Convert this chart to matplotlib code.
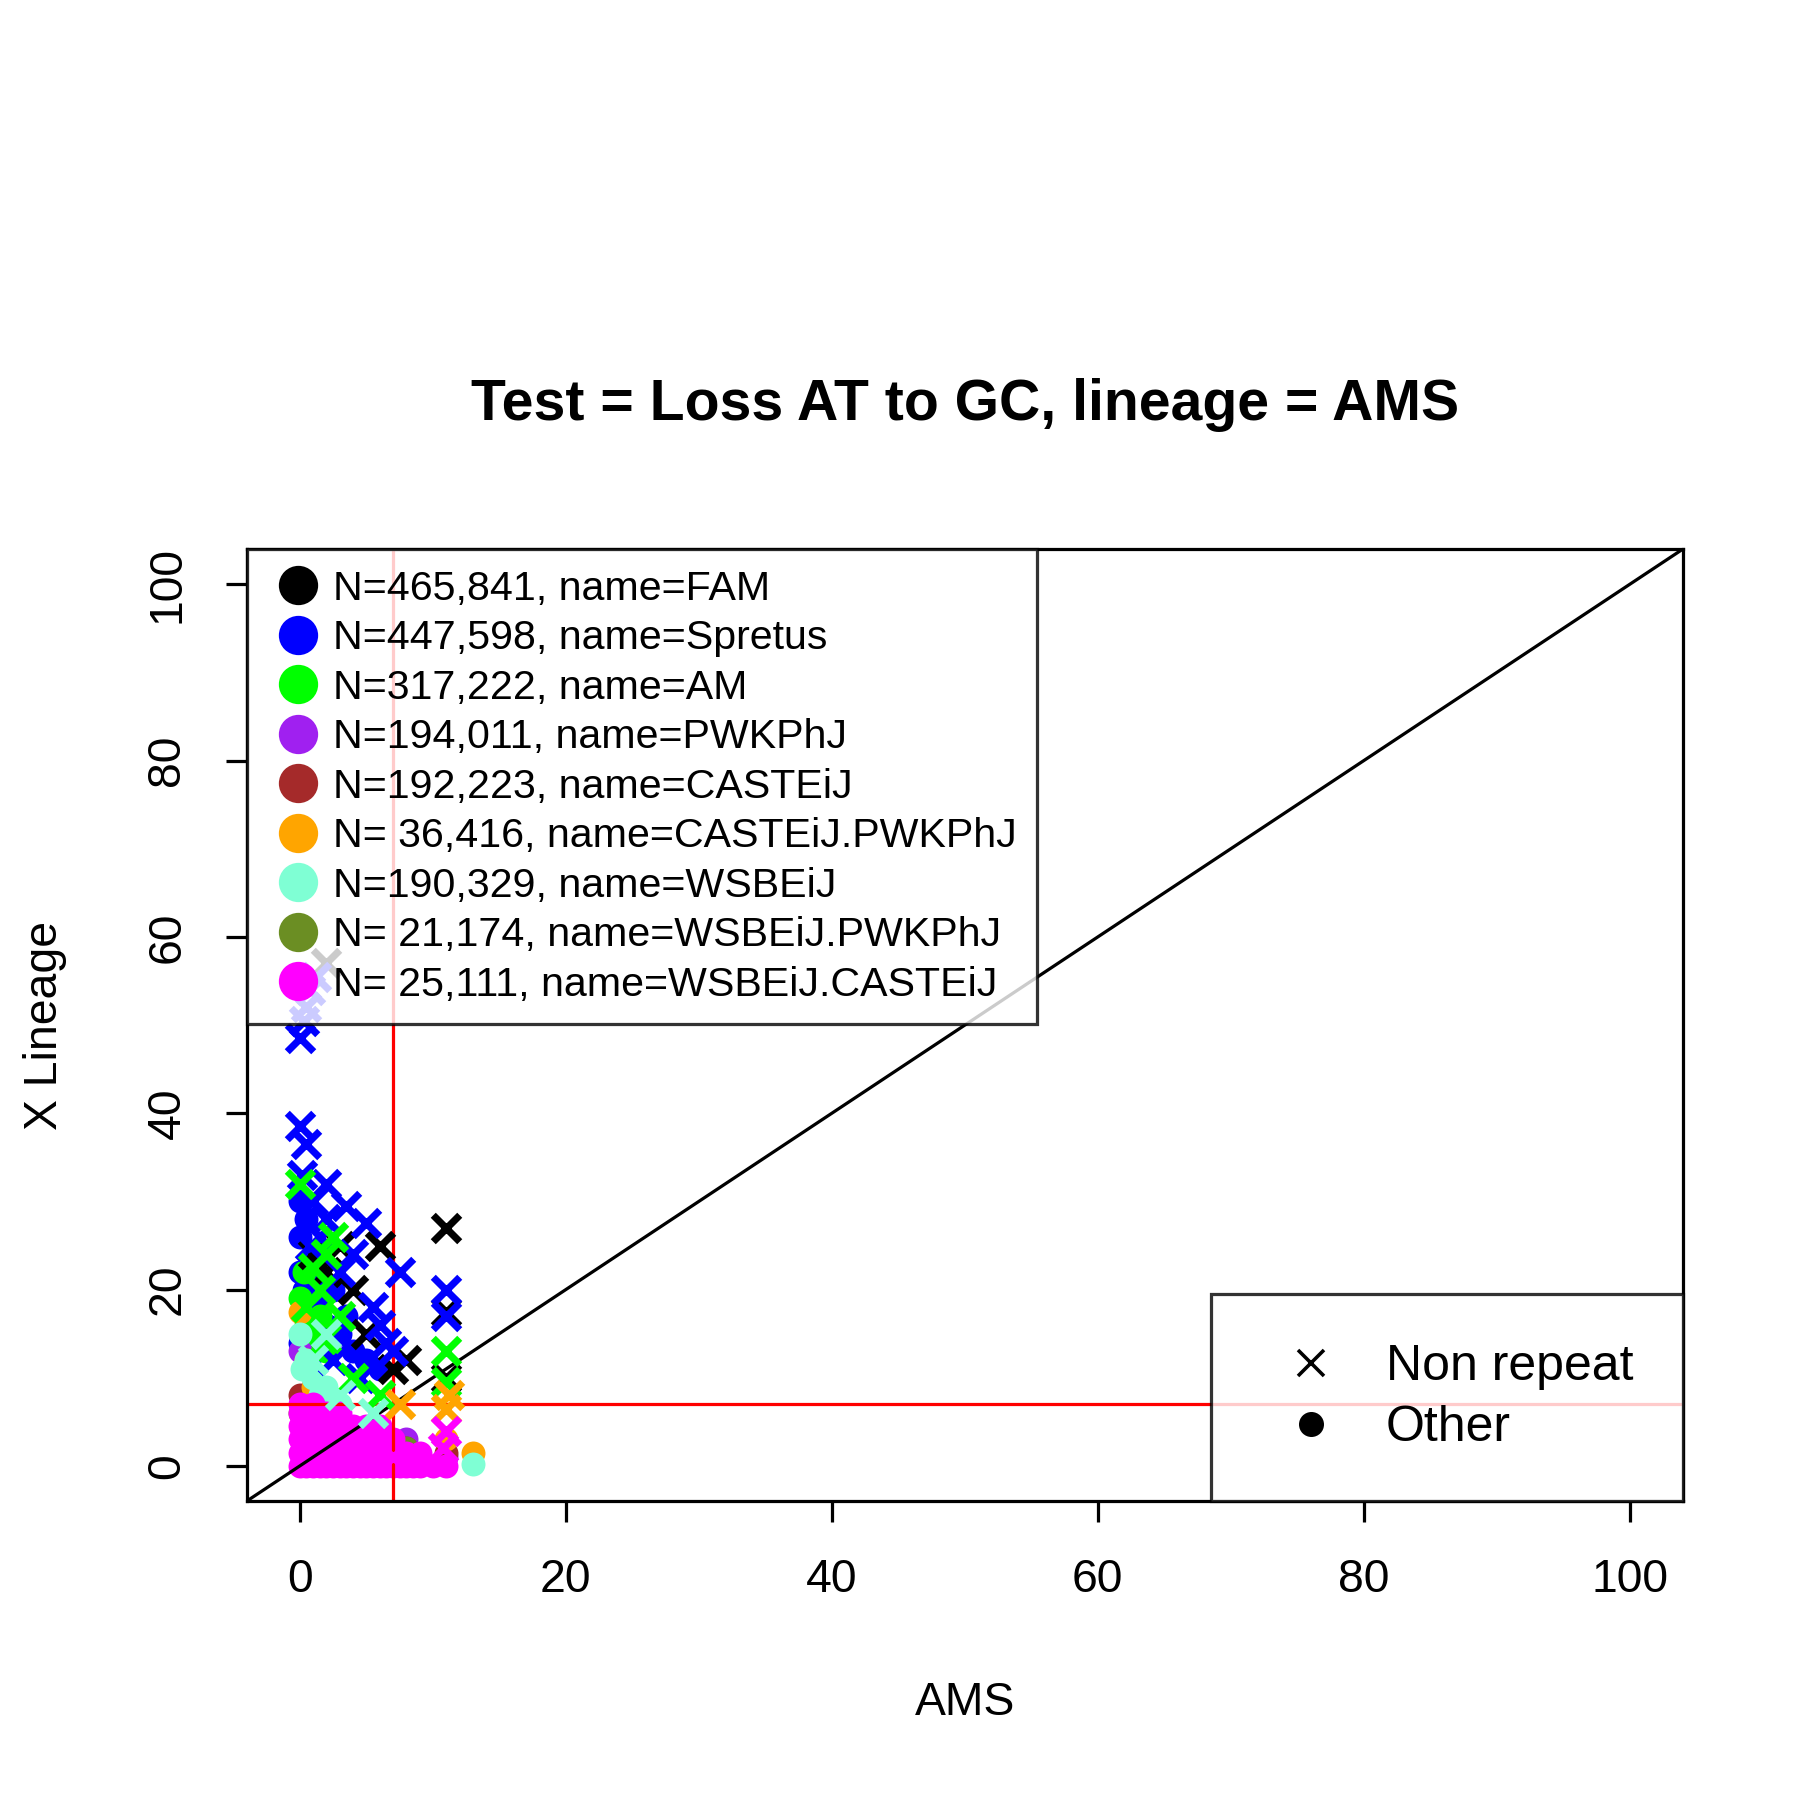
import matplotlib.pyplot as plt
from matplotlib.lines import Line2D

plt.rcParams['font.family'] = ['Liberation Sans', 'DejaVu Sans']

# group names, sizes and colours (legend order)
names = ['FAM', 'Spretus', 'AM', 'PWKPhJ', 'CASTEiJ', 'CASTEiJ.PWKPhJ',
         'WSBEiJ', 'WSBEiJ.PWKPhJ', 'WSBEiJ.CASTEiJ']
counts = ['465,841', '447,598', '317,222', '194,011', '192,223', ' 36,416',
          '190,329', ' 21,174', ' 25,111']
colors = ['black', 'blue', '#00ff00', '#a020f0', '#a52a2a', 'orange',
          '#7fffd4', '#6b8e23', 'magenta']

# non repeat points (x marker), per group
nr_x = {
    'FAM': [2, 11, 6, 3, 4, 8, 11, 11, 5, 1, 7, 2],
    'Spretus': [0, 0.3, 0.5, 0.8, 1.2, 0, 0.5, 2, 3.5, 5, 7.5, 11, 11, 1, 2, 4, 6, 7, 0.2, 3, 5.5, 6.5, 1.5, 0.8, 2.5, 4.5],
    'AM': [0, 1, 2, 2.5, 1.5, 3, 4, 11, 11, 0.5, 2, 6],
    'CASTEiJ.PWKPhJ': [7.5, 11, 11.2],
    'WSBEiJ': [2, 1, 5.5, 3],
    'WSBEiJ.CASTEiJ': [11, 10.8, 7],
}
nr_y = {
    'FAM': [57, 27, 25, 25, 20, 12, 10, 17.5, 15, 24, 11, 22],
    'Spretus': [48.5, 50.5, 52, 54, 55.5, 38.5, 36.5, 32, 29.5, 27.5, 22, 20, 17, 30, 28, 24, 16, 13, 33, 22, 18, 14, 26, 25, 12, 10],
    'AM': [32, 22.5, 24, 26, 20, 17, 10, 13, 9.5, 18, 14.5, 8],
    'CASTEiJ.PWKPhJ': [7, 6.5, 8],
    'WSBEiJ': [15, 12, 6, 8],
    'WSBEiJ.CASTEiJ': [4, 2, 1],
}

# other points (circle), per group
ot_x = {
    'Spretus': [0, 0, 0.5, 0, 1, 0.3, 1.5, 2, 0, 0.7, 3, 4, 5, 6, 2.5, 3.5, 1],
    'AM': [0, 0.5, 1, 1.5, 0.3, 2],
    'PWKPhJ': [0, 1, 2, 3, 5, 8, 11],
    'CASTEiJ': [0, 1, 2, 4, 6, 8, 11],
    'CASTEiJ.PWKPhJ': [0, 0.5, 1, 13, 11, 4],
    'WSBEiJ': [0, 0.5, 1, 1.5, 0.2, 2, 3, 13, 9],
    'WSBEiJ.PWKPhJ': [0, 2, 4, 6, 8],
    'WSBEiJ.CASTEiJ': [0, 0.5, 1, 1.5, 2, 2.5, 3, 3.5, 4, 4.5, 5, 5.5, 6, 6.5, 7, 7.5, 8, 8.5, 9, 10, 11,
                       0, 0.5, 1, 1.5, 2, 2.5, 3, 3.5, 4, 4.5, 5, 5.5, 6, 7, 8, 9,
                       0, 0.5, 1, 1.5, 2, 2.5, 3, 3.5, 4, 5, 6, 7,
                       0, 0.5, 1, 1.5, 2, 2.5, 3, 4, 5, 6, 0, 1, 2, 3, 0, 1],
}
ot_y = {
    'Spretus': [30, 26, 28, 22, 24, 20, 18, 16, 14, 12, 15, 13, 12, 11, 20, 17, 21],
    'AM': [19, 16, 14, 17, 22, 13],
    'PWKPhJ': [13, 9, 7, 5, 4, 3, 1],
    'CASTEiJ': [8, 6, 5, 4, 3, 2, 1.5],
    'CASTEiJ.PWKPhJ': [17.5, 12, 9, 1.5, 3, 2],
    'WSBEiJ': [15, 12, 10, 8, 11, 9, 7, 0.2, 1],
    'WSBEiJ.PWKPhJ': [6, 5, 4, 3, 2],
    'WSBEiJ.CASTEiJ': [0, 0, 0, 0, 0, 0, 0, 0, 0, 0, 0, 0, 0, 0, 0, 0, 0, 0, 0, 0, 0,
                       1.5, 1.5, 1.5, 1.5, 1.5, 1.5, 1.5, 1.5, 1.5, 1.5, 1.5, 1.5, 1.5, 1.5, 1.5, 1.5,
                       3, 3, 3, 3, 3, 3, 3, 3, 3, 3, 3, 3,
                       4.5, 4.5, 4.5, 4.5, 4.5, 4.5, 4.5, 4.5, 4.5, 4.5, 6, 6, 6, 6, 7, 7],
}

cutoff = 7

fig = plt.figure(figsize=(7, 7), dpi=1800 / 7)
ax = fig.add_axes([0.137, 0.166, 0.798, 0.529])

for name, col in zip(names, colors):
    if name in ot_x:
        ax.scatter(ot_x[name], ot_y[name], s=45, color=col, marker='o', linewidths=0, zorder=2)
    if name in nr_x:
        ax.scatter(nr_x[name], nr_y[name], s=55, color=col, marker='x', linewidths=2, zorder=3)

ax.plot([-4, 104], [-4, 104], color='black', lw=0.9)
ax.axvline(cutoff, color='red', lw=0.9)
ax.axhline(cutoff, color='red', lw=0.9)

ax.set_xlim(-4, 104)
ax.set_ylim(-4, 104)
ax.set_xticks(range(0, 101, 20))
ax.set_yticks(range(0, 101, 20))
ax.tick_params(labelsize=13, length=6, width=0.9, pad=10)
for lab in ax.get_yticklabels():
    lab.set_rotation(90)
    lab.set_va('center')
for s in ax.spines.values():
    s.set_linewidth(0.9)
ax.set_xlabel('AMS', fontsize=13, labelpad=22)
ax.set_ylabel('X Lineage', fontsize=13, labelpad=22)
ax.set_title('Test = Loss AT to GC, lineage = AMS', fontsize=16, fontweight='bold', pad=36)

handles = [Line2D([], [], marker='o', ls='', color=c, markersize=10) for c in colors]
labels = ['N=%s, name=%s' % (n, nm) for n, nm in zip(counts, names)]
leg1 = ax.legend(handles, labels, loc='upper left', fontsize=11.5, frameon=True, fancybox=False,
                 edgecolor='black', borderaxespad=0, handletextpad=0.1, labelspacing=0.28,
                 handlelength=1.5, borderpad=0.5)
leg1.get_frame().set_linewidth(0.9)
ax.add_artist(leg1)

h2 = [Line2D([], [], marker='x', ls='', color='black', markersize=7),
      Line2D([], [], marker='o', ls='', color='black', markersize=6)]
leg2 = ax.legend(h2, ['Non repeat', 'Other'], loc='lower right', fontsize=14, frameon=True,
                 fancybox=False, edgecolor='black', borderaxespad=0, handletextpad=0.5,
                 borderpad=1.0, labelspacing=0.3)
leg2.get_frame().set_linewidth(0.9)

fig.savefig('out.png')
